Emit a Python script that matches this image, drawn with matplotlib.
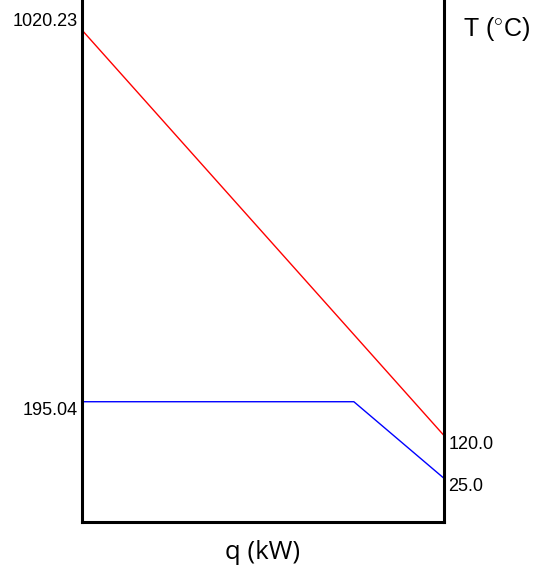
import matplotlib
matplotlib.use('Agg')
import matplotlib.pyplot as plt

# hot stream (red) and cold stream (blue), q as fraction of duty
hot_q = [0.0, 1.0]
hot_T = [1020.23, 120.0]
cold_q = [0.0, 0.751, 1.0]
cold_T = [195.04, 195.04, 25.0]

plt.rcParams['font.family'] = ['Liberation Sans', 'DejaVu Sans']
plt.rcParams['mathtext.fontset'] = 'custom'
plt.rcParams['mathtext.rm'] = 'Liberation Sans'

fig = plt.figure(figsize=(5.37, 5.74), dpi=100)
ax = fig.add_axes([0.1527, 0.0906, 0.6741, 0.9094])

ax.plot(hot_q, hot_T, color='red', linewidth=1)
ax.plot(cold_q, cold_T, color='blue', linewidth=1)

ax.set_xlim(0, 1)
ax.set_ylim(-72, 1087)
ax.set_xticks([])
ax.set_yticks([])
ax.spines['top'].set_visible(False)
for s in ['left', 'right', 'bottom']:
    ax.spines[s].set_linewidth(2.2)

fs = 13
ax.text(-0.012, hot_T[0], f'{hot_T[0]}', ha='right', va='bottom', fontsize=fs)
ax.text(-0.012, cold_T[0], f'{cold_T[0]}', ha='right', va='top', fontsize=fs)
ax.text(1.012, hot_T[-1], f'{hot_T[-1]}', ha='left', va='top', fontsize=fs)
ax.text(1.012, cold_T[-1], f'{cold_T[-1]}', ha='left', va='top', fontsize=fs)

ax.text(1.052, 1022, r'T ($^{\circ}$C)', ha='left', va='center', fontsize=18)
ax.set_xlabel('q (kW)', fontsize=18.5, family='Open Sans', labelpad=13)

fig.savefig('out.png', dpi=100)
